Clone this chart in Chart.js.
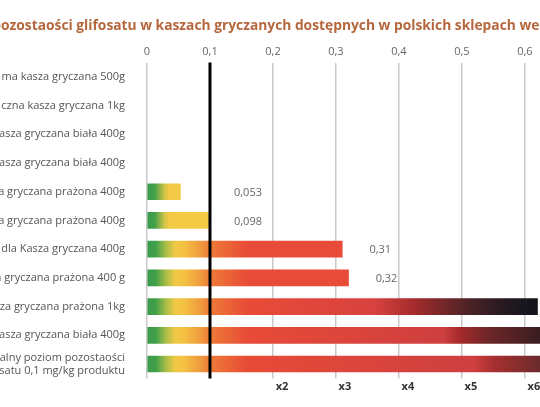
<!DOCTYPE html>
<html>
<head>
<meta charset="utf-8">
<script src="https://cdn.jsdelivr.net/npm/chart.js@4.4.1/dist/chart.umd.min.js"></script>
<style>
  html, body { margin: 0; padding: 0; background: #fff; }
  #wrap { width: 540px; height: 407px; position: relative; }
</style>
</head>
<body>
<div id="wrap"><canvas id="glifosatChart"></canvas></div>
<script>
var titleText = 'pozostaości glifosatu w kaszach gryczanych dostępnych w polskich sklepach we';

var categories = [
    'ma kasza gryczana 500g',
    'czna kasza gryczana 1kg',
    'Kasza gryczana biała 400g',
    'Kasza gryczana biała 400g',
    'Kasza gryczana prażona 400g',
    'Kasza gryczana prażona 400g',
    'dla Kasza gryczana 400g',
    'Kasza gryczana prażona 400 g',
    'Kasza gryczana prażona 1kg',
    'Kasza gryczana biała 400g',
    ['Maksymalny poziom pozostaości', 'glifosatu 0,1 mg/kg produktu']
];
var residues = [null, null, null, null, 0.053, 0.098, 0.31, 0.32, 0.62, 0.7, 0.7];
var valueLabels = ['', '', '', '', '0,053', '0,098', '0,31', '0,32', '', '', ''];
var tickValues = [0, 0.1, 0.2, 0.3, 0.4, 0.5, 0.6];
var topTickLabels = ['0', '0,1', '0,2', '0,3', '0,4', '0,5', '0,6'];
var bottomTickLabels = ['', '', 'x2', 'x3', 'x4', 'x5', 'x6'];
var limitValue = 0.1;
var axisMax = 0.624;

// colour stops, offsets are in data units (gradient runs from 0 to 1)
var warm = [[0, '#3b9a4c'], [0.014, '#41a04a'], [0.03, '#a9bd47'], [0.045, '#f1c844'], [0.06, '#f4c043'],
            [0.085, '#ef9a3d'], [0.1, '#ee7b37'], [0.16, '#e84b37']];
var lowStops = [[0, '#3b9a4c'], [0.012, '#41a04a'], [0.028, '#d2c446'], [0.035, '#f3c945'], [1, '#f6ca47']];
var midStops = warm.concat([[1, '#e84b37']]);
var dark1 = warm.concat([[0.36, '#d8423f'], [0.425, '#a52b2c'], [0.465, '#7a2729'], [0.513, '#4a2226'],
                         [0.56, '#2a1b21'], [0.61, '#14141d'], [1, '#0e0e16']]);
var dark2 = warm.concat([[0.47, '#cf3f40'], [0.497, '#a52a2b'], [0.544, '#6c2628'], [0.624, '#3a1d21'], [1, '#1a1418']]);
var dark3 = warm.concat([[0.52, '#cd3f40'], [0.55, '#a83030'], [0.624, '#6a2a2c'], [1, '#3a1d21']]);
var rowGradients = [null, null, null, null, lowStops, lowStops, midStops, midStops, dark1, dark2, dark3];

Chart.defaults.font.family = "'Open Sans', sans-serif";
Chart.defaults.font.size = 11;

function barFill(ctx) {
    var chart = ctx.chart;
    if (!chart.chartArea) return '#e84b37';
    var stops = rowGradients[ctx.dataIndex] || midStops;
    var x = chart.scales.x;
    var g = chart.ctx.createLinearGradient(x.getPixelForValue(0), 0, x.getPixelForValue(1), 0);
    stops.forEach(function (s) { g.addColorStop(s[0], s[1]); });
    return g;
}

var overlay = {
    id: 'overlay',
    afterDatasetsDraw: function (chart) {
        var c = chart.ctx, area = chart.chartArea, x = chart.scales.x, y = chart.scales.y;
        var lx = x.getPixelForValue(limitValue);
        c.save();
        // limit line
        c.strokeStyle = '#000';
        c.lineWidth = 3;
        c.beginPath();
        c.moveTo(lx, area.top);
        c.lineTo(lx, area.bottom);
        c.stroke();
        // value labels
        c.fillStyle = '#666';
        c.font = "11px 'Open Sans', sans-serif";
        c.textAlign = 'center';
        c.textBaseline = 'middle';
        valueLabels.forEach(function (lbl, i) {
            if (!lbl) return;
            var px = Math.max(x.getPixelForValue(residues[i]), lx) + 38;
            c.fillText(lbl, px, y.getPixelForValue(i) + 1);
        });
        c.restore();
    },
    afterDraw: function (chart) {
        var c = chart.ctx;
        c.save();
        c.fillStyle = '#b5673d';
        c.font = "bold 13.8px 'Open Sans', sans-serif";
        c.textBaseline = 'middle';
        c.fillText(titleText, 1 - c.measureText('p').width, 26);
        c.restore();
    }
};

new Chart(document.getElementById('glifosatChart').getContext('2d'), {
    type: 'bar',
    data: {
        labels: categories,
        datasets: [{
            data: residues,
            backgroundColor: barFill,
            borderWidth: 0,
            barThickness: 16,
            xAxisID: 'x'
        }]
    },
    options: {
        indexAxis: 'y',
        responsive: true,
        maintainAspectRatio: false,
        animation: false,
        layout: { padding: 0 },
        plugins: {
            legend: { display: false },
            tooltip: { enabled: false }
        },
        scales: {
            x: {
                position: 'top',
                min: 0,
                max: axisMax,
                afterBuildTicks: function (s) { s.ticks = tickValues.map(function (v) { return { value: v }; }); },
                afterFit: function (s) { s.height = 62.5; },
                ticks: {
                    color: '#666',
                    padding: 4,
                    callback: function (v, i) { return topTickLabels[i]; }
                },
                grid: {
                    drawTicks: false,
                    lineWidth: 1.5,
                    color: function (ctx) { return ctx.tick && ctx.tick.value === limitValue ? 'rgba(0,0,0,0)' : '#c9c9c9'; }
                },
                border: { display: false }
            },
            x2: {
                type: 'linear',
                position: 'bottom',
                min: 0,
                max: axisMax,
                afterBuildTicks: function (s) { s.ticks = tickValues.map(function (v) { return { value: v }; }); },
                afterFit: function (s) { s.height = 28.5; },
                ticks: {
                    color: '#333',
                    font: { weight: 'bold' },
                    padding: 2,
                    labelOffset: 9,
                    callback: function (v, i) { return bottomTickLabels[i]; }
                },
                grid: { display: false, drawTicks: false },
                border: { display: false }
            },
            y: {
                afterFit: function (s) { s.width = 147; },
                ticks: { color: '#555', padding: 22, autoSkip: false },
                grid: { display: false, drawTicks: false },
                border: { display: false }
            }
        }
    },
    plugins: [overlay]
});
</script>
</body>
</html>
